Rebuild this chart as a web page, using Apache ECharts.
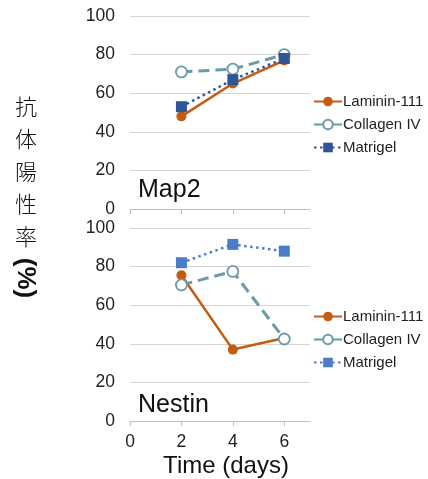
<!DOCTYPE html>
<html>
<head>
<meta charset="utf-8">
<script src="https://cdn.jsdelivr.net/npm/echarts@6/dist/echarts.min.js"></script>
<style>html,body{margin:0;padding:0;background:#fff;}#c{width:428px;height:479px;}</style>
</head>
<body>
<div id="c"></div>
<script>
const days = [2, 4, 6];
const xTicks = [0, 2, 4, 6];
const seriesNames = ['Laminin-111', 'Collagen IV', 'Matrigel'];
const map2Laminin = [48, 65, 77];
const map2Collagen = [71, 72.5, 80];
const map2Matrigel = [53, 67, 78];
const nestinLaminin = [75.5, 37, 43];
const nestinCollagen = [70.5, 77.5, 42.5];
const nestinMatrigel = [82, 91.5, 88];
const panelLabels = ['Map2', 'Nestin'];

const FONT = 'Liberation Sans, Arial, sans-serif';
const cLam = '#c55a11', cCol = '#6b9aa9', cMatTop = '#2f5597', cMatBot = '#4a7dc4';

function pts(vals) { return days.map((d, i) => [d, vals[i]]); }

function mkSeries(name, vals, idx, kind, matColor) {
  const base = { name: name, type: 'line', xAxisIndex: idx, yAxisIndex: idx, data: pts(vals), z: 3 };
  if (kind === 0) {
    return Object.assign(base, { symbol: 'circle', symbolSize: 10,
      lineStyle: { color: cLam, width: 2.5 }, itemStyle: { color: cLam } });
  } else if (kind === 1) {
    return Object.assign(base, { symbol: 'circle', symbolSize: 11,
      lineStyle: { color: cCol, width: 3, type: [11, 6] },
      itemStyle: { color: '#fff', borderColor: cCol, borderWidth: 1.8 } });
  } else {
    return Object.assign(base, { symbol: 'rect', symbolSize: 11,
      lineStyle: { color: matColor, width: 2.5, type: [2.5, 3.5] }, itemStyle: { color: matColor } });
  }
}

const xAxisBase = {
  type: 'value', min: 0, max: 7, interval: 2,
  axisLine: { show: true, lineStyle: { color: '#c0c0c0', width: 1 } },
  axisTick: { show: true, length: 5, customValues: xTicks, lineStyle: { color: '#c0c0c0' } },
  splitLine: { show: false }
};
const yAxisBase = {
  type: 'value', min: 0, max: 100, interval: 20,
  axisLine: { show: false }, axisTick: { show: false },
  axisLabel: { color: '#222', fontSize: 17.5, fontFamily: FONT, margin: 15 },
  splitLine: { lineStyle: { color: '#d4d4d4', width: 1 } }
};

const legendBase = { left: 308, orient: 'vertical', itemWidth: 28, itemHeight: 12, itemGap: 8,
  textStyle: { fontSize: 15, fontFamily: FONT, color: '#222', padding: [0, 0, 0, -4] }, selectedMode: false };

const chart = echarts.init(document.getElementById('c'), null, { renderer: 'canvas' });
chart.setOption({
  animation: false,
  backgroundColor: '#fff',
  grid: [
    { left: 130, width: 180, top: 16, height: 193 },
    { left: 130, width: 180, top: 228, height: 193 }
  ],
  xAxis: [
    Object.assign({}, xAxisBase, { gridIndex: 0, axisLabel: { show: false } }),
    Object.assign({}, xAxisBase, { gridIndex: 1,
      axisLabel: { show: true, customValues: xTicks, color: '#222', fontSize: 17.5, fontFamily: FONT, margin: 12 } })
  ],
  yAxis: [
    Object.assign({}, yAxisBase, { gridIndex: 0 }),
    Object.assign({}, yAxisBase, { gridIndex: 1 })
  ],
  legend: [
    Object.assign({}, legendBase, { top: 89,
      data: [{ name: seriesNames[0] }, { name: seriesNames[1] }, { name: seriesNames[2] }] }),
    Object.assign({}, legendBase, { top: 304,
      data: [{ name: seriesNames[0] }, { name: seriesNames[1] },
        { name: seriesNames[2], itemStyle: { color: cMatBot }, lineStyle: { color: cMatBot } }] })
  ],
  series: [
    mkSeries(seriesNames[0], map2Laminin, 0, 0),
    mkSeries(seriesNames[1], map2Collagen, 0, 1),
    mkSeries(seriesNames[2], map2Matrigel, 0, 2, cMatTop),
    mkSeries(seriesNames[0], nestinLaminin, 1, 0),
    mkSeries(seriesNames[1], nestinCollagen, 1, 1),
    mkSeries(seriesNames[2], nestinMatrigel, 1, 2, cMatBot)
  ],
  graphic: [
    { type: 'text', left: 138, top: 178, style: { text: panelLabels[0], fontSize: 25, fontFamily: FONT, fill: '#111' } },
    { type: 'text', left: 138, top: 393, style: { text: panelLabels[1], fontSize: 25, fontFamily: FONT, fill: '#111' } },
    { type: 'text', x: 226, y: 466, style: { text: 'Time (days)', fontSize: 24, fontFamily: FONT, fill: '#111', align: 'center', verticalAlign: 'middle' } },
    { type: 'text', x: 26, y: 90, style: { text: '抗\n体\n陽\n性\n率', fontSize: 22, lineHeight: 32.5, fontFamily: 'Noto Sans CJK JP', fontWeight: 300, fill: '#111', align: 'center', verticalAlign: 'top' } },
    { type: 'text', x: 25, y: 278, rotation: -Math.PI / 2, style: { text: '(%)', fontSize: 26, fontFamily: FONT, fontWeight: 'bold', fill: '#111', align: 'center', verticalAlign: 'middle' } }
  ]
});
</script>
</body>
</html>
